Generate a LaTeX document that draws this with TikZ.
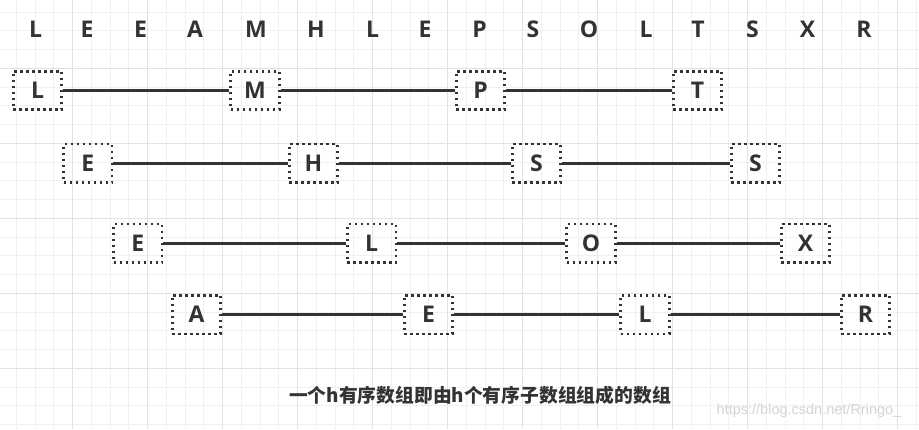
\documentclass[tikz,border=0pt]{standalone}
\usepackage{fontspec}
\setmainfont{Open Sans}
\newfontfamily\cjkfont{Noto Sans CJK SC}
\newfontfamily\wmfont{Liberation Sans}
\definecolor{ink}{HTML}{333333}
\definecolor{gridminor}{HTML}{F0F0F0}
\definecolor{gridmajor}{HTML}{E2E2E2}
\definecolor{wm}{HTML}{D4D4D4}
\tikzset{
  letter/.style={text=ink, font=\fontsize{23}{23}\selectfont\bfseries, inner sep=0pt},
  cell/.style={letter, draw=ink, line width=2.6pt, dash pattern=on 2.4pt off 3.6pt,
    minimum width=48.5pt, minimum height=38.5pt},
  link/.style={draw=ink, line width=2.6pt},
  minorgrid/.style={draw=gridminor, line width=1pt},
  majorgrid/.style={draw=gridmajor, line width=1pt},
}
\begin{document}
\begin{tikzpicture}[x=1pt, y=-1pt]
\fill[white] (0,0) rectangle (919,429);
\useasboundingbox (0,0) rectangle (919,429);
% grid
\foreach \k in {0,...,48} \draw[minorgrid] ({16.45+18.75*\k},0) -- ({16.45+18.75*\k},429);
\foreach \k in {0,...,22} \draw[minorgrid] (0,{12.05+18.75*\k}) -- (919,{12.05+18.75*\k});
\foreach \k in {1,...,12} \draw[majorgrid] ({-2.3+75*\k},0) -- ({-2.3+75*\k},429);
\foreach \k in {1,...,5} \draw[majorgrid] (0,{-6.7+75*\k}) -- (919,{-6.7+75*\k});
% top sequence
\foreach \ch/\x [count=\i] in {L/35.5,E/87,E/140.5,A/195,M/256,H/316,L/372.5,E/425,P/479.5,S/533,O/589,L/646,T/698,S/752.5,X/807.5,R/864}
  \node[letter, anchor=base] (t\i) at (\x,37.3) {\ch};
% row 1
\node[cell] (a1) at (37.5,90.5) {L};
\node[cell] (a2) at (255,90.5) {M};
\node[cell] (a3) at (480.5,90.5) {P};
\node[cell] (a4) at (697.5,90.5) {T};
% row 2
\node[cell] (b1) at (87.8,163.3) {E};
\node[cell] (b2) at (313.5,163.3) {H};
\node[cell] (b3) at (536.5,163.3) {S};
\node[cell] (b4) at (755.5,163.3) {S};
% row 3
\node[cell] (c1) at (137.8,243.3) {E};
\node[cell] (c2) at (371.7,243.3) {L};
\node[cell] (c3) at (591,243.3) {O};
\node[cell] (c4) at (805.5,243.3) {X};
% row 4
\node[cell] (d1) at (196.5,314.7) {A};
\node[cell] (d2) at (428.5,314.7) {E};
\node[cell] (d3) at (645,314.7) {L};
\node[cell] (d4) at (865.5,314.7) {R};
\foreach \r in {a,b,c,d}{
  \draw[link] (\r1.east) -- (\r2.west);
  \draw[link] (\r2.east) -- (\r3.west);
  \draw[link] (\r3.east) -- (\r4.west);
}
\node[text=ink, font=\cjkfont\fontsize{18.8}{18.8}\selectfont\bfseries, inner sep=0pt] (cap) at (480,395) {一个h有序数组即由h个有序子数组组成的数组};
\node[text=wm, font=\wmfont\fontsize{14.5}{14.5}\selectfont, inner sep=0pt] (wmk) at (809,411) {https://blog.csdn.net/Rringo\_};
\end{tikzpicture}
\end{document}
